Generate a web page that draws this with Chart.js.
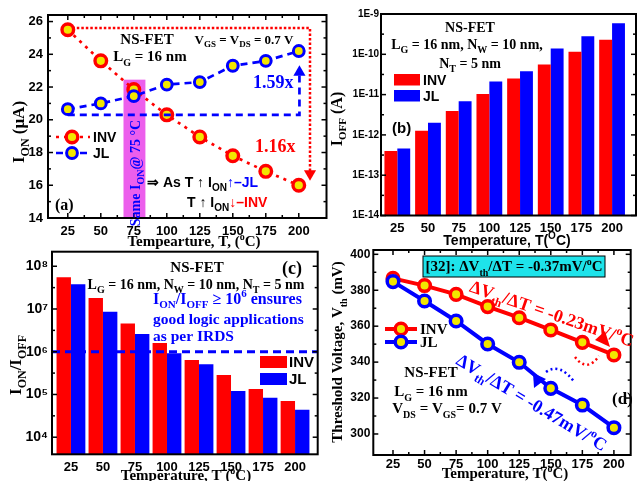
<!DOCTYPE html>
<html>
<head>
<meta charset="utf-8">
<script src="https://cdn.jsdelivr.net/npm/chart.js@4.4.1/dist/chart.umd.min.js"></script>
<style>
body { margin:0; background:#fff; }
#wrap { position:relative; width:640px; height:481px; overflow:hidden; }
canvas { position:absolute; left:0; top:0; }
</style>
</head>
<body>
<div id="wrap">
<canvas id="cA" width="640" height="481"></canvas>
<canvas id="cB" width="640" height="481"></canvas>
<canvas id="cC" width="640" height="481"></canvas>
<canvas id="cD" width="640" height="481"></canvas>
</div>
<script>
// temperatures (degC)
const temps = [25, 50, 75, 100, 125, 150, 175, 200];

// (a) ON current, uA
const ionInv = [25.5, 23.6, 21.85, 20.3, 18.95, 17.8, 16.85, 16.0];
const ionJl  = [20.65, 21.0, 21.45, 22.15, 22.3, 23.3, 23.6, 24.2];
const ionTicks = [14, 16, 18, 20, 22, 24, 26];
// guide arrows in (a)
const redGuideX = [25, 208.5, 208.5];
const redGuideY = [25.6, 25.6, 16.7];
const blueGuideX = [25, 200.5, 200.5];
const blueGuideY = [20.3, 20.3, 22.9];

// (b) OFF current, A
const ioffInv = [4.0e-13, 1.26e-12, 3.9e-12, 1.04e-11, 2.5e-11, 5.6e-11, 1.16e-10, 2.3e-10];
const ioffJl  = [4.6e-13, 2.0e-12, 6.8e-12, 2.1e-11, 3.8e-11, 1.4e-10, 2.8e-10, 5.9e-10];
const ioffTicks = [1e-14, 1e-13, 1e-12, 1e-11, 1e-10, 1e-9];

// (c) ON/OFF ratio
const ratioInv = [5.5e7, 1.8e7, 4.6e6, 1.6e6, 6.4e5, 2.86e5, 1.34e5, 7.0e4];
const ratioJl  = [3.8e7, 8.6e6, 2.6e6, 9.2e5, 5.1e5, 1.21e5, 8.4e4, 4.4e4];
const ratioTicks = [1e4, 1e5, 1e6, 1e7, 1e8];
const irdsLimit = 1e6;

// (d) threshold voltage, mV
const vthInv = [386.6, 382.6, 377.7, 370.9, 364.7, 357.9, 351.0, 344.0];
const vthJl  = [384.8, 374.0, 362.9, 350.1, 339.9, 325.4, 316.1, 303.5];
const vthTicks = [300, 320, 340, 360, 380, 400];

const SANS = 'Liberation Sans', SERIF = 'Liberation Serif';
const RED = '#ff0000', BLUE = '#0000ff', YEL = '#f2e600';

function pts(xs, ys) { return xs.map((x, i) => ({ x: x, y: ys[i] })); }

function rich(ctx, x, y, parts, o) {
  const size = o.size || 14;
  const fam = o.family || SERIF;
  const font = s => 'bold ' + s + 'px "' + fam + '"';
  let total = 0;
  const segs = parts.map(p => {
    const t = Array.isArray(p) ? p[0] : p;
    const m = Array.isArray(p) ? (p[1] || '') : '';
    const c = (Array.isArray(p) && p[2]) || o.color || '#000';
    const s = m ? Math.round(size * (o.sub || 0.68)) : size;
    ctx.font = font(s);
    const w = ctx.measureText(t).width;
    total += w;
    return { t, m, c, s, w };
  });
  ctx.save();
  ctx.translate(x, y);
  if (o.rot) ctx.rotate(o.rot);
  ctx.textBaseline = 'alphabetic';
  ctx.textAlign = 'left';
  let cx = o.align === 'center' ? -total / 2 : (o.align === 'right' ? -total : 0);
  const base = size * 0.36;
  segs.forEach(g => {
    ctx.font = font(g.s);
    ctx.fillStyle = g.c;
    const dy = g.m === 'b' ? size * 0.28 : (g.m === 'p' ? -size * 0.42 : 0);
    ctx.fillText(g.t, cx, base + dy);
    cx += g.w;
  });
  ctx.restore();
}

function seg(ctx, x1, y1, x2, y2, color, lw, dash) {
  ctx.save();
  ctx.beginPath();
  ctx.setLineDash(dash || []);
  ctx.strokeStyle = color;
  ctx.lineWidth = lw;
  ctx.moveTo(x1, y1);
  ctx.lineTo(x2, y2);
  ctx.stroke();
  ctx.restore();
}

function marker(ctx, x, y, r, lw, color) {
  ctx.save();
  ctx.beginPath();
  ctx.arc(x, y, r, 0, Math.PI * 2);
  ctx.fillStyle = YEL;
  ctx.fill();
  ctx.lineWidth = lw;
  ctx.strokeStyle = color;
  ctx.stroke();
  ctx.restore();
}

function tri(ctx, p, color) {
  ctx.save();
  ctx.beginPath();
  ctx.moveTo(p[0], p[1]);
  ctx.lineTo(p[2], p[3]);
  ctx.lineTo(p[4], p[5]);
  ctx.closePath();
  ctx.fillStyle = color;
  ctx.fill();
  ctx.restore();
}

// box + inward tick marks
function makeFrame(xTicks) {
  return {
    id: 'frame',
    afterDatasetsDraw(chart) {
      const ctx = chart.ctx, a = chart.chartArea;
      const xs = chart.scales.x, ys = chart.scales.y;
      ctx.save();
      ctx.strokeStyle = '#000';
      ctx.lineWidth = 1.5;
      const mark = (x1, y1, x2, y2) => { ctx.beginPath(); ctx.moveTo(x1, y1); ctx.lineTo(x2, y2); ctx.stroke(); };
      const yp = ys.ticks.map(t => ys.getPixelForValue(t.value));
      yp.forEach((y, i) => {
        mark(a.left, y, a.left + 5, y);
        mark(a.right, y, a.right - 5, y);
        if (i > 0) {
          const m = (y + yp[i - 1]) / 2;
          mark(a.left, m, a.left + 3, m);
          mark(a.right, m, a.right - 3, m);
        }
      });
      if (xTicks) {
        const xp = xs.ticks.map(t => xs.getPixelForValue(t.value));
        xp.forEach((x, i) => {
          mark(x, a.bottom, x, a.bottom - 5);
          mark(x, a.top, x, a.top + 5);
          if (i > 0) {
            const m = (x + xp[i - 1]) / 2;
            mark(m, a.bottom, m, a.bottom - 3);
            mark(m, a.top, m, a.top + 3);
          }
        });
      }
      ctx.lineWidth = 2;
      ctx.strokeRect(a.left, a.top, a.right - a.left, a.bottom - a.top);
      ctx.restore();
    }
  };
}

function baseOptions(area, xCfg, yCfg) {
  return {
    responsive: false,
    animation: false,
    devicePixelRatio: 1,
    events: [],
    layout: { padding: { left: 0, top: area.top, right: 640 - area.right, bottom: 0 } },
    plugins: { legend: { display: false }, tooltip: { enabled: false } },
    scales: {
      x: Object.assign({
        offset: false,
        grid: { display: false, drawTicks: false, offset: false },
        border: { display: false },
        afterFit(s) { s.height = 481 - area.bottom; }
      }, xCfg),
      y: Object.assign({
        grid: { display: false, drawTicks: false },
        border: { display: false },
        afterFit(s) { s.width = area.left; }
      }, yCfg)
    }
  };
}

function tempAxis(min, max, size, pad) {
  return {
    type: 'linear', min: min, max: max,
    afterBuildTicks(s) { s.ticks = temps.map(v => ({ value: v })); },
    ticks: { color: '#000', padding: pad, font: { family: SANS, weight: 'bold', size: size } }
  };
}

const SUP = '⁰¹²³⁴⁵⁶⁷⁸⁹';

// ---------- (a) ----------
const annotA = {
  id: 'annotA',
  beforeDatasetsDraw(chart) {
    const ctx = chart.ctx, x = chart.scales.x, y = chart.scales.y;
    const x1 = x.getPixelForValue(67.2), x2 = x.getPixelForValue(83.8);
    const y1 = y.getPixelForValue(22.45);
    ctx.fillStyle = '#ec5fec';
    ctx.fillRect(x1, y1, x2 - x1, chart.chartArea.bottom - y1);
  },
  afterDraw(chart) {
    const ctx = chart.ctx;
    rich(ctx, 135, 173, ['Same I', ['ON', 'b'], '@ 75 °C'], { size: 14, color: BLUE, align: 'center', rot: -Math.PI / 2 });
    rich(ctx, 147, 39, ['NS-FET'], { size: 15, align: 'center' });
    rich(ctx, 150, 56, ['L', ['G', 'b'], ' = 16 nm'], { size: 15, align: 'center' });
    rich(ctx, 244, 39, ['V', ['GS', 'b'], ' = V', ['DS', 'b'], ' = 0.7 V'], { size: 13, align: 'center' });
    rich(ctx, 253, 82, ['1.59x'], { size: 18, color: BLUE });
    rich(ctx, 255, 146, ['1.16x'], { size: 18, color: RED });
    rich(ctx, 55, 204, ['(a)'], { size: 16 });
    seg(ctx, 56, 137, 90, 137, RED, 2.7, [3, 5]);
    marker(ctx, 72, 137, 5.8, 3.4, RED);
    rich(ctx, 93, 137, ['INV'], { size: 14, family: SANS });
    seg(ctx, 56, 153, 90, 153, BLUE, 2.7, [7, 5]);
    marker(ctx, 72, 153, 5.4, 3, BLUE);
    rich(ctx, 93, 153, ['JL'], { size: 14, family: SANS });
    rich(ctx, 147, 182, ['⇒ As T ↑ I', ['ON', 'b'], ['↑', '', BLUE], ['–JL', '', BLUE]], { size: 14, family: SANS });
    rich(ctx, 187, 202, ['T ↑ I', ['ON', 'b'], ['↓', '', RED], ['–INV', '', RED]], { size: 14, family: SANS });
    rich(ctx, 18, 132, ['I', ['ON', 'b'], ' (μA)'], { size: 17, align: 'center', rot: -Math.PI / 2 });
    rich(ctx, 194, 241, ['Tempearture, T, (', ['o', 'p'], 'C)'], { size: 15, align: 'center' });
  }
};

const areaA = { left: 48, top: 15, right: 326.5, bottom: 218 };
const optA = baseOptions(areaA, tempAxis(10, 221, 13, 6), {
  type: 'linear', min: 14, max: 26.4,
  afterBuildTicks(s) { s.ticks = ionTicks.map(v => ({ value: v })); },
  ticks: { color: '#000', padding: 5, font: { family: SANS, weight: 'bold', size: 13 } }
});

new Chart(document.getElementById('cA'), {
  type: 'line',
  data: {
    datasets: [
      { data: pts(temps, ionJl), borderColor: BLUE, borderWidth: 2.7, borderDash: [7, 5],
        pointRadius: 5.4, pointBorderWidth: 3, pointBackgroundColor: YEL, pointBorderColor: BLUE },
      { data: pts(blueGuideX, blueGuideY), borderColor: BLUE, borderWidth: 2.7, borderDash: [7, 5],
        pointRadius: [0, 0, 7], pointStyle: 'triangle', pointRotation: 0,
        pointBackgroundColor: BLUE, pointBorderWidth: 0 },
      { data: pts(temps, ionInv), borderColor: RED, borderWidth: 2.7, borderDash: [3, 5],
        pointRadius: 5.8, pointBorderWidth: 3.4, pointBackgroundColor: YEL, pointBorderColor: RED },
      { data: pts(redGuideX, redGuideY), borderColor: RED, borderWidth: 2.5, borderDash: [2.5, 2],
        pointRadius: [0, 0, 7], pointStyle: 'triangle', pointRotation: 180,
        pointBackgroundColor: RED, pointBorderWidth: 0 }
    ]
  },
  options: optA,
  plugins: [annotA, makeFrame(true)]
});

// ---------- (b) ----------
const annotB = {
  id: 'annotB',
  afterDraw(chart) {
    const ctx = chart.ctx;
    rich(ctx, 470, 27, ['NS-FET'], { size: 14, align: 'center' });
    rich(ctx, 467, 44, ['L', ['G', 'b'], ' = 16 nm, N', ['W', 'b'], ' = 10 nm,'], { size: 14, align: 'center' });
    rich(ctx, 470, 63, ['N', ['T', 'b'], ' = 5 nm'], { size: 14, align: 'center' });
    ctx.fillStyle = RED; ctx.fillRect(394, 74, 26, 11.5);
    ctx.fillStyle = BLUE; ctx.fillRect(394, 90, 26, 11.5);
    rich(ctx, 423, 80, ['INV'], { size: 14, family: SANS });
    rich(ctx, 423, 96, ['JL'], { size: 14, family: SANS });
    rich(ctx, 392, 128, ['(b)'], { size: 15, family: SANS });
    rich(ctx, 336, 119, ['I', ['OFF', 'b'], ' (A)'], { size: 16, align: 'center', rot: -Math.PI / 2 });
    rich(ctx, 507, 240, ['Temperature, T(', ['O', 'p'], 'C)'], { size: 14, family: SANS, align: 'center' });
  }
};

const areaB = { left: 381, top: 14, right: 636, bottom: 215.5 };
const optB = baseOptions(areaB, tempAxis(11.7, 219.5, 13, 5), {
  type: 'logarithmic', min: 1e-14, max: 1e-9,
  afterBuildTicks(s) { s.ticks = ioffTicks.map(v => ({ value: v })); },
  ticks: { color: '#000', padding: 2, font: { family: SANS, weight: 'bold', size: 10 },
    callback: v => '1E' + Math.round(Math.log10(v)) }
});

new Chart(document.getElementById('cB'), {
  type: 'bar',
  data: {
    datasets: [
      { data: pts(temps, ioffInv), backgroundColor: RED, categoryPercentage: 0.84, barPercentage: 1 },
      { data: pts(temps, ioffJl), backgroundColor: BLUE, categoryPercentage: 0.84, barPercentage: 1 }
    ]
  },
  options: optB,
  plugins: [annotB, makeFrame(false)]
});

// ---------- (c) ----------
const annotC = {
  id: 'annotC',
  afterDraw(chart) {
    const ctx = chart.ctx;
    rich(ctx, 197, 267, ['NS-FET'], { size: 15, align: 'center' });
    rich(ctx, 196, 284, ['L', ['G', 'b'], ' = 16 nm, N', ['W', 'b'], ' = 10 nm, N', ['T', 'b'], ' = 5 nm'], { size: 14, align: 'center' });
    rich(ctx, 153, 298, ['I', ['ON', 'b'], '/I', ['OFF', 'b'], ' ≥ 10', ['6', 'p'], ' ensures'], { size: 16, color: BLUE });
    rich(ctx, 153, 318, ['good logic applications'], { size: 15.5, color: BLUE });
    rich(ctx, 153, 335, ['as per IRDS'], { size: 15.5, color: BLUE });
    rich(ctx, 282, 268, ['(c)'], { size: 18 });
    ctx.fillStyle = RED; ctx.fillRect(260, 356, 27, 12);
    ctx.fillStyle = BLUE; ctx.fillRect(260, 373, 27, 12);
    rich(ctx, 289, 362, ['INV'], { size: 15, family: SANS });
    rich(ctx, 289, 379, ['JL'], { size: 15, family: SANS });
    rich(ctx, 15, 365, ['I', ['ON', 'b'], '/I', ['OFF', 'b']], { size: 17, align: 'center', rot: -Math.PI / 2 });
    rich(ctx, 186, 475, ['Temperature, T (', ['o', 'p'], 'C)'], { size: 15, align: 'center' });
  }
};

const areaC = { left: 52, top: 251.7, right: 317.7, bottom: 454.3 };
const cMin = 10.2, cMax = 217.7;
const optC = baseOptions(areaC, tempAxis(cMin, cMax, 13, 5), {
  type: 'logarithmic', min: 3981, max: 2.19e8,
  afterBuildTicks(s) { s.ticks = ratioTicks.map(v => ({ value: v })); },
  ticks: { color: '#000', padding: 4, font: { family: SANS, weight: 'bold', size: 14 },
    callback: v => '10' + SUP[Math.round(Math.log10(v))] }
});

new Chart(document.getElementById('cC'), {
  type: 'bar',
  data: {
    datasets: [
      { type: 'line', data: [{ x: cMin, y: irdsLimit }, { x: cMax, y: irdsLimit }], borderColor: BLUE,
        borderWidth: 3, borderDash: [8, 5], pointRadius: 0, order: 0 },
      { data: pts(temps, ratioInv), backgroundColor: RED, categoryPercentage: 0.9, barPercentage: 1, order: 1 },
      { data: pts(temps, ratioJl), backgroundColor: BLUE, categoryPercentage: 0.9, barPercentage: 1, order: 1 }
    ]
  },
  options: optC,
  plugins: [annotC, makeFrame(false)]
});

// ---------- (d) ----------
const annotD = {
  id: 'annotD',
  afterDraw(chart) {
    const ctx = chart.ctx;
    ctx.fillStyle = '#1ee3ea';
    ctx.fillRect(423, 256, 182, 21);
    ctx.strokeStyle = '#000'; ctx.lineWidth = 1;
    ctx.strokeRect(423, 256, 182, 21);
    rich(ctx, 514, 266, ['[32]: ΔV', ['th', 'b'], '/ΔT = -0.37mV/', ['o', 'p'], 'C'], { size: 15, align: 'center' });
    rich(ctx, 552, 313, ['ΔV', ['th', 'b'], '/ΔT = -0.23mV/', ['o', 'p'], 'C'], { size: 18, color: RED, align: 'center', rot: 0.33 });
    rich(ctx, 532, 402, ['ΔV', ['th', 'b'], '/ΔT = -0.47mV/', ['o', 'p'], 'C'], { size: 18, color: BLUE, align: 'center', rot: 0.54 });
    ctx.save();
    ctx.setLineDash([2, 3]);
    ctx.lineWidth = 2.5;
    ctx.strokeStyle = RED;
    ctx.beginPath(); ctx.moveTo(575, 357); ctx.quadraticCurveTo(587, 373, 599, 356); ctx.stroke();
    ctx.strokeStyle = BLUE;
    ctx.beginPath(); ctx.moveTo(546, 372); ctx.quadraticCurveTo(560, 362, 575, 383); ctx.stroke();
    ctx.restore();
    tri(ctx, [610, 347, 595, 340, 605, 331], RED);
    tri(ctx, [534, 388, 533, 373, 546, 379], BLUE);
    seg(ctx, 385, 329, 417, 329, RED, 4);
    marker(ctx, 401, 329, 5.8, 3.5, RED);
    rich(ctx, 420, 329, ['INV'], { size: 15 });
    seg(ctx, 385, 342, 417, 342, BLUE, 4);
    marker(ctx, 401, 342, 5.8, 3.5, BLUE);
    rich(ctx, 420, 342, ['JL'], { size: 15 });
    rich(ctx, 431, 372, ['NS-FET'], { size: 15, align: 'center' });
    rich(ctx, 431, 391, ['L', ['G', 'b'], ' = 16 nm'], { size: 15, align: 'center' });
    rich(ctx, 447, 408, ['V', ['DS', 'b'], ' = V', ['GS', 'b'], '= 0.7 V'], { size: 15, align: 'center' });
    rich(ctx, 612, 398, ['(d)'], { size: 17 });
    rich(ctx, 337, 352, ['Threshold Voltage, V', ['th', 'b'], ' (mV)'], { size: 15, align: 'center', rot: -Math.PI / 2 });
    rich(ctx, 505, 473, ['Temperature, T(', ['o', 'p'], 'C)'], { size: 15, align: 'center' });
  }
};

const areaD = { left: 373.3, top: 250, right: 634.3, bottom: 455 };
const optD = baseOptions(areaD, tempAxis(9.4, 213.3, 13, 2), {
  type: 'linear', min: 288.3, max: 402.4,
  afterBuildTicks(s) { s.ticks = vthTicks.map(v => ({ value: v })); },
  ticks: { color: '#000', padding: 3, font: { family: SANS, weight: 'bold', size: 12 } }
});

new Chart(document.getElementById('cD'), {
  type: 'line',
  data: {
    datasets: [
      { data: pts(temps, vthJl), borderColor: BLUE, borderWidth: 4,
        pointRadius: 5.8, pointBorderWidth: 3.5, pointBackgroundColor: YEL, pointBorderColor: BLUE },
      { data: pts(temps, vthInv), borderColor: RED, borderWidth: 4,
        pointRadius: 5.8, pointBorderWidth: 3.5, pointBackgroundColor: YEL, pointBorderColor: RED }
    ]
  },
  options: optD,
  plugins: [annotD, makeFrame(true)]
});
</script>
</body>
</html>
